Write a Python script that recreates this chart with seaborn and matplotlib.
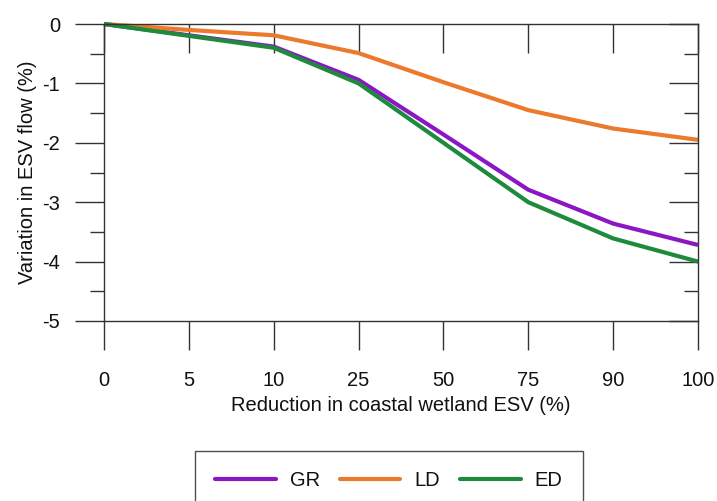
import numpy as np
import pandas as pd
import matplotlib
matplotlib.use("Agg")
import matplotlib.pyplot as plt
from matplotlib.ticker import MultipleLocator
import seaborn as sns

# Reduction levels (%) and ESV flow change (%) for each scenario
reduction = ["0", "5", "10", "25", "50", "75", "90", "100"]
gr = [0.0, -0.19, -0.38, -0.94, -1.86, -2.79, -3.36, -3.72]
ld = [0.0, -0.10, -0.19, -0.49, -0.98, -1.45, -1.76, -1.95]
ed = [0.0, -0.20, -0.40, -1.00, -2.00, -3.00, -3.61, -4.00]
scenarios = ["GR", "LD", "ED"]
colors = ["#8B17C4", "#EC7A2D", "#1E8B3C"]

df = pd.DataFrame({
    "reduction": reduction * 3,
    "change": gr + ld + ed,
    "scenario": np.repeat(scenarios, len(reduction)),
})

sns.set_style("white")
plt.rcParams["font.family"] = ["Liberation Sans", "DejaVu Sans"]
plt.rcParams["axes.unicode_minus"] = False

fs = 14.5
fig = plt.figure(figsize=(7.17, 5.01), dpi=100)
ax = fig.add_axes([104 / 717, 1 - 321 / 501, (698 - 104) / 717, (321 - 24) / 501])

sns.lineplot(data=df, x="reduction", y="change", hue="scenario",
             hue_order=scenarios, palette=colors, linewidth=3.0,
             sort=False, legend=False, ax=ax)
for line in ax.lines:
    line.set_clip_on(False)
    line.set_solid_capstyle("butt")

ax.set_xlim(0, len(reduction) - 1)
ax.set_ylim(-5, 0)
ax.set_xticks(range(len(reduction)))
ax.set_xticklabels(reduction)
ax.yaxis.set_major_locator(MultipleLocator(1))
ax.yaxis.set_minor_locator(MultipleLocator(0.5))

tick_color = "#333333"
text_color = "#111111"
for s in ax.spines.values():
    s.set_visible(True)
    s.set_color(tick_color)
    s.set_linewidth(1.0)

ax.tick_params(axis="both", which="major", direction="out", length=21,
               width=1.0, color=tick_color, labelsize=fs, labelcolor=text_color)
ax.tick_params(axis="x", which="major", pad=15, bottom=True, top=False)
ax.tick_params(axis="y", which="major", pad=10.5, left=True, right=False)
ax.tick_params(axis="y", which="minor", direction="out", length=10,
               width=1.0, color=tick_color, left=True, right=False)

# inward ticks on the top and right edges
top = ax.secondary_xaxis("top")
top.set_xticks(range(len(reduction)))
top.tick_params(direction="in", length=21, width=1.0, color=tick_color,
                labeltop=False)
top.spines["top"].set_visible(False)
right = ax.secondary_yaxis("right")
right.yaxis.set_major_locator(MultipleLocator(1))
right.yaxis.set_minor_locator(MultipleLocator(0.5))
right.tick_params(which="major", direction="in", length=21, width=1.0,
                  color=tick_color, labelright=False)
right.tick_params(which="minor", direction="in", length=10, width=1.0,
                  color=tick_color)
right.spines["right"].set_visible(False)

ax.set_xlabel("Reduction in coastal wetland ESV (%)", fontsize=fs,
              color=text_color, labelpad=4)
ax.set_ylabel("Variation in ESV flow (%)", fontsize=fs, color=text_color,
              labelpad=4)

handles = [plt.Line2D([], [], color=c, linewidth=3.0) for c in colors]
leg = fig.legend(handles, scenarios, loc="upper center",
                 bbox_to_anchor=(389 / 717, 1 - 451 / 501), ncol=3,
                 fontsize=fs, frameon=True, fancybox=False,
                 edgecolor="#222222", handlelength=3.0, handletextpad=0.7,
                 columnspacing=1.0, borderpad=1.0, borderaxespad=0)
leg.get_frame().set_linewidth(1.0)
for t in leg.get_texts():
    t.set_color(text_color)

fig.savefig("out.png", dpi=100)
